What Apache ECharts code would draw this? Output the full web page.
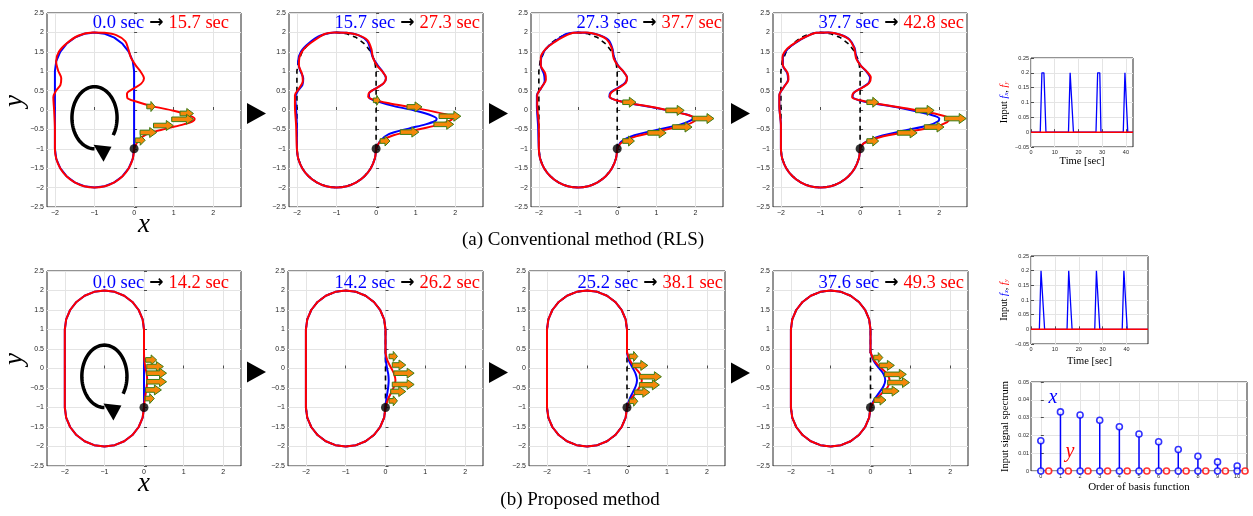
<!DOCTYPE html>
<html>
<head>
<meta charset="utf-8">
<script src="https://cdn.jsdelivr.net/npm/echarts@6/dist/echarts.min.js"></script>
<style>
html, body { margin: 0; padding: 0; background: #fff; }
#chart { width: 1253px; height: 516px; }
</style>
</head>
<body>
<div id="chart"></div>
<script>
// ---------- data ----------
// reference racetrack path (closed, starting at the contact point)
const stadium = [[0,-1],[0,1],[-0.034,1.259],[-0.134,1.5],[-0.293,1.707],[-0.5,1.866],[-0.741,1.966],[-1,2],
  [-1.259,1.966],[-1.5,1.866],[-1.707,1.707],[-1.866,1.5],[-1.966,1.259],[-2,1],[-2,-1],[-1.966,-1.259],
  [-1.866,-1.5],[-1.707,-1.707],[-1.5,-1.866],[-1.259,-1.966],[-1,-2],[-0.741,-1.966],[-0.5,-1.866],
  [-0.293,-1.707],[-0.134,-1.5],[-0.034,-1.259],[0,-1]];
const stadiumBottom = stadium.slice(14);

// conventional method (RLS): estimated contour at the end of each interval
const rls0 = [[0,-1],[0.1,-0.8],[0.32,-0.62],[0.82,-0.48],[1.25,-0.37],[1.48,-0.29],[1.53,-0.23],[1.42,-0.15],
  [1.0,-0.02],[0.45,0.1],[0.05,0.22],[-0.17,0.31],[-0.18,0.42],[-0.02,0.55],[0.18,0.68],[0.25,0.82],[0.17,0.98],
  [0.04,1.15],[-0.08,1.35],[-0.14,1.55],[-0.22,1.77],[-0.45,1.93],[-0.75,1.99],[-1.05,2.0],[-1.4,1.92],
  [-1.7,1.72],[-1.9,1.5],[-1.97,1.25],[-1.92,1.02],[-1.84,0.82],[-1.86,0.65],[-1.97,0.5],[-2.04,0.33],
  [-2.02,0.0],[-2.0,-0.5]];
const rls1 = [[0,-1],[0.1,-0.82],[0.44,-0.65],[1.12,-0.49],[1.62,-0.37],[1.88,-0.27],[1.93,-0.2],[1.75,-0.11],
  [1.0,0.05],[0.35,0.17],[-0.05,0.26],[-0.2,0.34],[-0.17,0.45],[0.02,0.57],[0.2,0.7],[0.25,0.84],[0.15,1.0],
  [0.02,1.15],[-0.08,1.35],[-0.12,1.58],[-0.22,1.8],[-0.45,1.93],[-0.75,1.99],[-1.05,2.0],[-1.3,1.96],
  [-1.55,1.8],[-1.8,1.6],[-1.93,1.38],[-1.95,1.15],[-1.87,0.93],[-1.85,0.75],[-1.95,0.55],[-2.05,0.38],
  [-2.05,0.1],[-2.02,-0.4]];
const rls2 = [[0,-1],[0.1,-0.85],[0.48,-0.68],[1.16,-0.52],[1.72,-0.4],[1.97,-0.29],[2.0,-0.22],[1.78,-0.12],
  [1.0,0.06],[0.35,0.17],[-0.03,0.25],[-0.19,0.34],[-0.15,0.45],[0.05,0.58],[0.22,0.7],[0.25,0.83],[0.15,1.0],
  [0.02,1.14],[-0.09,1.33],[-0.14,1.6],[-0.27,1.82],[-0.5,1.94],[-0.8,2.0],[-1.1,1.99],[-1.35,1.9],
  [-1.6,1.75],[-1.83,1.57],[-1.95,1.35],[-1.95,1.15],[-1.84,0.95],[-1.82,0.78],[-1.92,0.6],[-2.04,0.38],
  [-2.04,0.1],[-2.0,-0.4]];
const rls3 = [[0,-1],[0.09,-0.86],[0.5,-0.7],[1.28,-0.55],[1.9,-0.43],[2.2,-0.31],[2.26,-0.23],[2.0,-0.12],
  [1.1,0.05],[0.4,0.17],[0.0,0.25],[-0.2,0.33],[-0.17,0.44],[0.05,0.57],[0.23,0.7],[0.27,0.84],[0.16,1.0],
  [0.02,1.14],[-0.1,1.33],[-0.15,1.6],[-0.28,1.82],[-0.5,1.94],[-0.8,2.0],[-1.1,1.99],[-1.35,1.9],
  [-1.6,1.76],[-1.84,1.58],[-1.96,1.36],[-1.95,1.15],[-1.83,0.95],[-1.81,0.78],[-1.92,0.6],[-2.04,0.38],
  [-2.04,0.1],[-2.0,-0.4]];

// force vectors: [x, y, length]
const rlsArrows0 = [[0.32,0.09,0.21],[1.16,-0.09,0.34],[0.95,-0.24,0.55],[0.49,-0.4,0.5],[0.15,-0.58,0.42],[0.03,-0.78,0.25]];
const rlsArrows1 = [[-0.07,0.25,0.17],[0.78,0.08,0.38],[1.59,-0.16,0.55],[1.46,-0.37,0.5],[0.61,-0.57,0.47],[0.1,-0.8,0.25]];
const rlsArrows2 = [[0.14,0.2,0.34],[1.24,-0.01,0.47],[1.92,-0.22,0.55],[1.41,-0.44,0.5],[0.78,-0.59,0.47],[0.14,-0.8,0.3]];
const rlsArrows3 = [[0.17,0.2,0.3],[1.4,-0.01,0.47],[2.13,-0.22,0.55],[1.62,-0.44,0.5],[0.94,-0.59,0.5],[0.17,-0.8,0.3]];

// proposed method: local deformation on the right side
const propBump0 = [[0,-1],[0.02,-0.8],[0.05,-0.6],[0.07,-0.45],[0.08,-0.3],[0.07,-0.15],[0.04,0.0],[0.01,0.2],[0,0.4]];
const propBump1 = [[0,-1],[0.06,-0.8],[0.15,-0.6],[0.22,-0.45],[0.25,-0.3],[0.22,-0.15],[0.15,0.0],[0.05,0.2],[0,0.4]];
const propBump2 = [[0,-1],[0.09,-0.8],[0.22,-0.62],[0.33,-0.45],[0.37,-0.3],[0.33,-0.15],[0.22,0.0],[0.08,0.2],[0,0.42]];
const propBump3 = [[0,-1],[0.11,-0.82],[0.28,-0.64],[0.43,-0.48],[0.48,-0.32],[0.43,-0.16],[0.28,0.0],[0.1,0.2],[0,0.42]];

const propArrows0 = [[0.04,0.22,0.28],[0.07,0.05,0.42],[0.07,-0.12,0.5],[0.07,-0.34,0.5],[0.04,-0.55,0.4],[0.03,-0.77,0.23]];
const propArrows1 = [[0.09,0.31,0.21],[0.17,0.09,0.34],[0.21,-0.12,0.51],[0.17,-0.41,0.55],[0.13,-0.59,0.38],[0.09,-0.83,0.21]];
const propArrows2 = [[0.06,0.31,0.21],[0.14,0.08,0.38],[0.31,-0.21,0.55],[0.31,-0.42,0.5],[0.19,-0.61,0.38],[0.06,-0.84,0.21]];
const propArrows3 = [[0.08,0.28,0.23],[0.22,0.08,0.38],[0.35,-0.15,0.55],[0.43,-0.36,0.55],[0.3,-0.58,0.42],[0.09,-0.81,0.3]];

const contactPoint = [[0,-1]];
const rotationLoop = [[-1,-0.2,0.57,0.8]];   // centre x, centre y, radius x, radius y

const timesA = [['0.0','15.7'],['15.7','27.3'],['27.3','37.7'],['37.7','42.8']];
const timesB = [['0.0','14.2'],['14.2','26.2'],['25.2','38.1'],['37.6','49.3']];

// input force histories
const timeA = [0,3.9,4.6,5.45,6.3,15.8,16.5,17.3,17.9,27.4,28.1,29.0,29.5,38.9,39.6,40.3,40.8,43];
const fxA   = [0,0,0.2,0.2,0,0,0.2,0.2,0,0,0.2,0.2,0,0,0.2,0.2,0,0];
const fyA   = [0,0,0,0,0,0,0,0,0,0,0,0,0,0,0,0,0,0];
const timeB = [0,3.5,4.2,4.9,5.7,15.1,15.8,16.5,17.2,26.7,27.4,28.1,28.8,38.2,38.9,39.6,40.3,49];
const fxB   = [0,0,0.2,0.2,0,0,0.2,0.2,0,0,0.2,0.2,0,0,0.2,0.2,0,0];
const fyB   = [0,0,0,0,0,0,0,0,0,0,0,0,0,0,0,0,0,0];

// input spectrum over basis order
const specOrder = [0,1,2,3,4,5,6,7,8,9,10];
const specX = [0.0170,0.0332,0.0315,0.0285,0.0249,0.0208,0.0164,0.0121,0.0083,0.0051,0.0028];
const specY = [0,0,0,0,0,0,0,0,0,0,0];

const mainXTicks = [-2,-1,0,1,2];
const timeTicks = [0,10,20,30,40];

// ---------- layout / styles ----------
const BLUE = '#0000ff', RED = '#ff0000', INK = '#262626', GRIDC = '#e4e4e4';
const SERIF = '"Liberation Serif", "DejaVu Serif", serif';
const SANS = '"Liberation Sans", Arial, sans-serif';
const fmt = v => String(Math.round(v * 1000) / 1000).replace('-', '\u2212');

const boxesA = [[47,13,194,194],[289,13,194,194],[531,13,192,194],[773,13,194,194]];
const boxesB = [[47,271,194,195],[288,271,195,195],[529,271,196,195],[773,271,195,195]];

const grids = [], xAxes = [], yAxes = [], series = [], graphics = [];

function addGrid(box) {
  grids.push({left: box[0], top: box[1], width: box[2], height: box[3], show: true,
    borderColor: INK, borderWidth: 1, backgroundColor: '#fff', containLabel: false, outerBoundsMode: 'none'});
  return grids.length - 1;
}
function axisCommon(fontSize) {
  return {
    nameMoveOverlap: false,
    axisLine: {show: false},
    axisTick: {inside: true, length: 3, lineStyle: {color: INK, width: 0.8}},
    axisLabel: {fontSize: fontSize, color: INK, fontFamily: SANS, margin: 3, formatter: fmt},
    splitLine: {show: true, lineStyle: {color: GRIDC, width: 1}}
  };
}
function xAxisDef(g, min, max, ticks, fontSize, extra) {
  const c = axisCommon(fontSize);
  c.axisTick.customValues = ticks;
  c.axisLabel.customValues = ticks;
  return Object.assign({type: 'value', gridIndex: g, min: min, max: max}, c, extra || {});
}
function yAxisDef(g, min, max, interval, fontSize, extra) {
  return Object.assign({type: 'value', gridIndex: g, min: min, max: max, interval: interval}, axisCommon(fontSize), extra || {});
}

function lineSeries(g, data, color, opts) {
  return Object.assign({type: 'line', xAxisIndex: g, yAxisIndex: g, data: data, symbol: 'none',
    lineStyle: {color: color, width: 2}, itemStyle: {color: color}, animation: false, silent: true}, opts || {});
}

function renderArrow(params, api) {
  const x = api.value(0), y = api.value(1), len = api.value(2);
  const p0 = api.coord([x, y]);
  const p1 = api.coord([x + len, y]);
  const L = p1[0] - p0[0];
  const hl = Math.min(7, L * 0.5), sw = 2.3, hw = 5;
  const bx = p1[0] - hl, yy = p0[1];
  return {
    type: 'polygon',
    shape: {points: [[p0[0], yy - sw], [bx, yy - sw], [bx, yy - hw], [p1[0], yy], [bx, yy + hw], [bx, yy + sw], [p0[0], yy + sw]]},
    style: {fill: '#f5870a', stroke: '#3c7d15', lineWidth: 1}
  };
}
function arrowSeries(g, data) {
  return {type: 'custom', xAxisIndex: g, yAxisIndex: g, data: data, renderItem: renderArrow,
    encode: {x: 0, y: 1}, z: 5, silent: true, animation: false, clip: true};
}
function renderLoop(params, api) {
  const cx = api.value(0), cy = api.value(1), rx = api.value(2), ry = api.value(3);
  const c = api.coord([cx, cy]);
  const s = api.size([rx, ry]);
  const pts = [];
  for (let a = -34; a <= 270; a += 4) {
    const t = a * Math.PI / 180;
    pts.push([c[0] + s[0] * Math.cos(t), c[1] - s[1] * Math.sin(t)]);
  }
  const e = pts[pts.length - 1];
  return {
    type: 'group',
    children: [
      {type: 'polyline', shape: {points: pts}, style: {stroke: '#000', lineWidth: 3.5, fill: null}},
      {type: 'polygon', shape: {points: [[e[0] - 1, e[1] - 4], [e[0] + 17, e[1] - 2], [e[0] + 9, e[1] + 13]]},
        style: {fill: '#000'}}
    ]
  };
}
function dotSeries(g) {
  return {type: 'scatter', xAxisIndex: g, yAxisIndex: g, data: contactPoint, symbol: 'circle', symbolSize: 9,
    itemStyle: {color: '#000'}, z: 6, silent: true, animation: false};
}

const bigName = {fontFamily: SERIF, fontStyle: 'italic', fontSize: 27, color: '#000'};

// ---------- (a) conventional method ----------
const rlsCurves = [rls0, rls1, rls2, rls3].map(c => c.concat(stadiumBottom));
const rlsArrows = [rlsArrows0, rlsArrows1, rlsArrows2, rlsArrows3];
boxesA.forEach((box, i) => {
  const g = addGrid(box);
  xAxes.push(xAxisDef(g, -2.2, 2.7, mainXTicks, 7,
    i === 0 ? {name: 'x', nameLocation: 'middle', nameGap: 4, nameTextStyle: bigName} : {}));
  yAxes.push(yAxisDef(g, -2.5, 2.5, 0.5, 7));
  if (i > 0) series.push(lineSeries(g, stadium, '#000', {lineStyle: {color: '#000', width: 1.6, type: [5, 4]}, z: 2}));
  series.push(lineSeries(g, i === 0 ? stadium : rlsCurves[i - 1], BLUE, {smooth: i === 0 ? false : 0.3, z: 3}));
  series.push(lineSeries(g, rlsCurves[i], RED, {smooth: 0.3, z: 4}));
  series.push(arrowSeries(g, rlsArrows[i]));
  series.push(dotSeries(g));
  if (i === 0) series.push({type: 'custom', xAxisIndex: g, yAxisIndex: g, data: rotationLoop, renderItem: renderLoop,
    encode: {x: 0, y: 1}, z: 5, silent: true, animation: false});
});

// ---------- (b) proposed method ----------
const outerPath = [[0, 0.4]].concat(stadium.slice(1));
const propBumps = [propBump0, propBump1, propBump2, propBump3];
const propArrows = [propArrows0, propArrows1, propArrows2, propArrows3];
boxesB.forEach((box, i) => {
  const g = addGrid(box);
  xAxes.push(xAxisDef(g, -2.45, 2.45, mainXTicks, 7,
    i === 0 ? {name: 'x', nameLocation: 'middle', nameGap: 4, nameTextStyle: bigName} : {}));
  yAxes.push(yAxisDef(g, -2.5, 2.5, 0.5, 7));
  if (i > 0) series.push(lineSeries(g, stadium, '#000', {lineStyle: {color: '#000', width: 1.6, type: [5, 4]}, z: 2}));
  if (i === 0) {
    series.push(lineSeries(g, stadium, BLUE, {z: 3}));
  } else {
    series.push(lineSeries(g, outerPath, BLUE, {z: 3}));
    series.push(lineSeries(g, propBumps[i - 1], BLUE, {smooth: 0.4, z: 3}));
  }
  series.push(lineSeries(g, outerPath, RED, {z: 4}));
  series.push(lineSeries(g, propBumps[i], RED, {smooth: 0.4, z: 4}));
  series.push(arrowSeries(g, propArrows[i]));
  series.push(dotSeries(g));
  if (i === 0) series.push({type: 'custom', xAxisIndex: g, yAxisIndex: g, data: rotationLoop, renderItem: renderLoop,
    encode: {x: 0, y: 1}, z: 5, silent: true, animation: false});
});

// ---------- input force plots ----------
const inputName = {
  name: '{n|Input }{f|f}{sx|x}{n|, }{g|f}{sy|y}',
  nameLocation: 'middle', nameGap: 21,
  nameTextStyle: {rich: {
    n: {fontFamily: SERIF, fontSize: 10.5, color: '#000'},
    f: {fontFamily: SERIF, fontSize: 10.5, fontStyle: 'italic', color: BLUE},
    sx: {fontFamily: SERIF, fontSize: 6.5, fontStyle: 'italic', color: BLUE, padding: [5, 0, 0, 0]},
    g: {fontFamily: SERIF, fontSize: 10.5, fontStyle: 'italic', color: RED},
    sy: {fontFamily: SERIF, fontSize: 6.5, fontStyle: 'italic', color: RED, padding: [5, 0, 0, 0]}
  }}
};
[[ [1031,58,102,89], timeA, fxA, fyA, 43, 9 ], [ [1031,256,117,88], timeB, fxB, fyB, 49, 12 ]].forEach(cfg => {
  const g = addGrid(cfg[0]);
  const ax = xAxisDef(g, 0, cfg[4], timeTicks, 5.5, {name: 'Time [sec]', nameLocation: 'middle', nameGap: cfg[5],
    nameTextStyle: {fontFamily: SERIF, fontSize: 10.5, color: '#000'}});
  ax.axisLabel.margin = 2;
  xAxes.push(ax);
  const ay = yAxisDef(g, -0.05, 0.25, 0.05, 5.5, inputName);
  ay.axisLabel.margin = 2;
  yAxes.push(ay);
  series.push(lineSeries(g, cfg[1].map((t, k) => [t, cfg[2][k]]), BLUE, {lineStyle: {color: BLUE, width: 1.3}, z: 3}));
  series.push(lineSeries(g, cfg[1].map((t, k) => [t, cfg[3][k]]), RED, {lineStyle: {color: RED, width: 1.5}, z: 4}));
});

// ---------- spectrum plot ----------
{
  const g = addGrid([1031,382,216,89]);
  const ax = xAxisDef(g, -0.5, 10.5, specOrder, 5.5, {name: 'Order of basis function', nameLocation: 'middle', nameGap: 11,
    nameTextStyle: {fontFamily: SERIF, fontSize: 11, color: '#000'}});
  ax.axisLabel.margin = 2;
  xAxes.push(ax);
  const ay = yAxisDef(g, 0, 0.05, 0.01, 5.5, {name: 'Input signal spectrum', nameLocation: 'middle', nameGap: 20,
    nameTextStyle: {fontFamily: SERIF, fontSize: 10.5, color: '#000'}});
  ay.axisLabel.margin = 2;
  yAxes.push(ay);
  const xPts = specOrder.map((o, k) => [o, specX[k]]);
  const yPts = specOrder.map((o, k) => [o + 0.4, specY[k]]);
  series.push({type: 'custom', xAxisIndex: g, yAxisIndex: g, data: xPts, encode: {x: 0, y: 1}, silent: true, animation: false, z: 3,
    renderItem: (p, api) => {
      const a = api.coord([api.value(0), 0]), b = api.coord([api.value(0), api.value(1)]);
      return {type: 'line', shape: {x1: a[0], y1: a[1], x2: b[0], y2: b[1]}, style: {stroke: BLUE, lineWidth: 1.5}};
    }});
  const circ = (data, color) => ({type: 'scatter', xAxisIndex: g, yAxisIndex: g, data: data, symbol: 'circle', symbolSize: 6,
    itemStyle: {color: '#fff', borderColor: color, borderWidth: 1.6}, z: 5, silent: true, animation: false});
  series.push(circ(xPts, BLUE));
  series.push(circ(specOrder.map((o, k) => [o, 0]), BLUE));
  series.push(circ(yPts, RED));
}

// ---------- annotations ----------
const titleRich = {
  b: {fontFamily: SERIF, fontSize: 18.5, fill: BLUE},
  k: {fontFamily: '"DejaVu Sans", sans-serif', fontSize: 17, fontWeight: 'bold', fill: '#000', padding: [0, 5, 0, 5]},
  r: {fontFamily: SERIF, fontSize: 18.5, fill: RED}
};
const titleRightA = [229, 480, 722, 964];
const titleRightB = [229, 480, 723, 964];
timesA.forEach((t, i) => graphics.push({type: 'text', x: titleRightA[i], y: 23, z: 100,
  style: {text: '{b|' + t[0] + ' sec}{k|\u2192}{r|' + t[1] + ' sec}', rich: titleRich, textAlign: 'right', textVerticalAlign: 'middle'}}));
timesB.forEach((t, i) => graphics.push({type: 'text', x: titleRightB[i], y: 283, z: 100,
  style: {text: '{b|' + t[0] + ' sec}{k|\u2192}{r|' + t[1] + ' sec}', rich: titleRich, textAlign: 'right', textVerticalAlign: 'middle'}}));

// vertical axis titles of the trajectory rows
[101, 359].forEach(yc => graphics.push({type: 'text', x: 15, y: yc, rotation: Math.PI / 2, z: 100,
  style: {text: 'y', font: 'italic 27px ' + SERIF, fill: '#000', textAlign: 'center', textVerticalAlign: 'middle'}}));

[[247,113.5],[489,113.5],[731,113.5],[247,372],[489,372.5],[731,373]].forEach(p => graphics.push({type: 'polygon', z: 100,
  shape: {points: [[p[0], p[1] - 10.5], [p[0], p[1] + 10.5], [p[0] + 19, p[1]]]}, style: {fill: '#000'}}));

graphics.push({type: 'text', x: 583, y: 240, z: 100, style: {text: '(a) Conventional method (RLS)',
  font: '19px ' + SERIF, fill: '#000', textAlign: 'center', textVerticalAlign: 'middle'}});
graphics.push({type: 'text', x: 580, y: 500, z: 100, style: {text: '(b) Proposed method',
  font: '19px ' + SERIF, fill: '#000', textAlign: 'center', textVerticalAlign: 'middle'}});
graphics.push({type: 'text', x: 1053, y: 398, z: 100, style: {text: 'x',
  font: 'italic 20px ' + SERIF, fill: BLUE, textAlign: 'center', textVerticalAlign: 'middle'}});
graphics.push({type: 'text', x: 1070, y: 452, z: 100, style: {text: 'y',
  font: 'italic 20px ' + SERIF, fill: RED, textAlign: 'center', textVerticalAlign: 'middle'}});

const chart = echarts.init(document.getElementById('chart'), null, {renderer: 'canvas'});
chart.setOption({
  animation: false,
  backgroundColor: '#fff',
  grid: grids,
  xAxis: xAxes,
  yAxis: yAxes,
  series: series,
  graphic: graphics
});
</script>
</body>
</html>
